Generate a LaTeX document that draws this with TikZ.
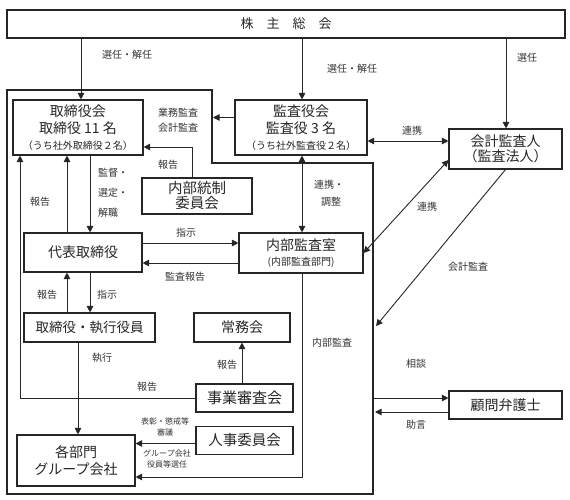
\documentclass[tikz,border=0pt]{standalone}
\usepackage{fontspec}
\setmainfont{Noto Sans CJK JP}
\usetikzlibrary{arrows.meta,calc}
\begin{document}
\begin{tikzpicture}[x=1pt,y=-1pt,
  box/.style={draw=black!85, line width=1.1pt, inner sep=0pt, align=center, text=black!85},
  big/.style={font=\fontsize{14}{18}\selectfont},
  lab/.style={font=\fontsize{10}{13}\selectfont, text=black!80, inner sep=0pt, align=center},
  tiny/.style={font=\fontsize{8}{11.5}\selectfont, text=black!80, inner sep=0pt, align=center},
  ln/.style={draw=black!85, line width=0.9pt},
  arr/.style={ln, -{Triangle[length=6.5pt,width=6.5pt]}},
  darr/.style={ln, {Triangle[length=6.5pt,width=6.5pt]}-{Triangle[length=6.5pt,width=6.5pt]}}]
\useasboundingbox (0,0) rectangle (570,500);

% outer frame
\coordinate (o1) at (7,90);
\coordinate (o2) at (212,90);
\coordinate (o3) at (212,163);
\coordinate (o4) at (373,163);
\coordinate (o5) at (373,494);
\coordinate (o6) at (7,494);
\draw[ln, line width=1.1pt] (o1) -- (o2) -- (o3) -- (o4) -- (o5) -- (o6) -- cycle;

% boxes
\node[box, big, minimum width=558pt, minimum height=28pt, font=\fontsize{13}{16}\selectfont] (soukai) at (286,24) {株　主　総　会};
\node[box, big, minimum width=130pt, minimum height=55pt] (torikai) at (78,127.5)
  {取締役会\\[-1pt]取締役 11 名\\[-2pt]{\fontsize{10}{12}\selectfont（うち社外取締役２名）}};
\node[box, big, minimum width=132pt, minimum height=55pt] (kansa) at (301,127.5)
  {監査役会\\[-1pt]監査役 3 名\\[-2pt]{\fontsize{10}{12}\selectfont（うち社外監査役２名）}};
\node[box, big, minimum width=113pt, minimum height=40pt] (kaikei) at (505.5,149)
  {会計監査人\\[-3pt]（監査法人）};
\node[box, big, minimum width=110pt, minimum height=36pt, font=\fontsize{14.5}{17}\selectfont] (naibu) at (197,196)
  {内部統制\\[-2pt]委員会};
\node[box, big, minimum width=118pt, minimum height=39pt] (daihyo) at (83,252.5) {代表取締役};
\node[box, big, minimum width=124pt, minimum height=40pt] (naikan) at (301,253)
  {内部監査室\\[-3pt]{\fontsize{10}{12}\selectfont (内部監査部門)}};
\node[box, big, minimum width=131pt, minimum height=29pt, font=\fontsize{13.5}{16}\selectfont] (shikko) at (89.5,327.5) {取締役・執行役員};
\node[box, big, minimum width=96pt, minimum height=29pt] (jomu) at (242,327.5) {常務会};
\node[box, big, minimum width=97pt, minimum height=28pt, font=\fontsize{15}{18}\selectfont] (jigyo) at (244.5,398) {事業審査会};
\node[box, big, minimum width=97pt, minimum height=28pt, font=\fontsize{14.5}{18}\selectfont] (jinji) at (244.5,440.5) {人事委員会};
\node[box, big, minimum width=118pt, minimum height=51pt] (kakubu) at (76,460.5)
  {各部門\\[-1pt]グループ会社};
\node[box, big, minimum width=113pt, minimum height=28pt] (bengo) at (505.5,405) {顧問弁護士};

% helper coordinates
\coordinate (xA) at (81,0);
\coordinate (xB) at (302,0);
\coordinate (xC) at (506,0);
\coordinate (xL1) at (20,0);
\coordinate (xL2) at (67,0);
\coordinate (xL3) at (90,0);
\coordinate (xE) at (78,0);
\coordinate (xN) at (192,0);
\coordinate (xJ) at (242,0);
\coordinate (yG) at (0,117.5);
\coordinate (yR) at (0,141);
\coordinate (yH) at (0,147);
\coordinate (yS) at (0,243);
\coordinate (yK) at (0,263);
\coordinate (yJ) at (0,443.5);
\coordinate (yI) at (0,477);
\coordinate (ySo) at (0,398);
\coordinate (yJo) at (0,412);
\coordinate (gyomu) at (213,117.5);
\coordinate (kaikeiEnd) at (376,326);
\coordinate (soudanStart) at (374,398);
\coordinate (jogenEnd) at (375,412);
\coordinate (iCorner) at (302,477);
\coordinate (hCorner) at (20,398);

% connectors
\draw[arr] (soukai.south -| xA) -- (torikai.north -| xA);
\draw[arr] (soukai.south -| xB) -- (kansa.north -| xB);
\draw[arr] (soukai.south -| xC) -- (kaikei.north -| xC);
\draw[arr] (kansa.west |- yG) -- (gyomu);
\draw[darr] (kansa.east |- yR) -- (kaikei.west |- yR);
\draw[arr] (naibu.north -| xN) |- (torikai.east |- yH);
\draw[darr] (kansa.south -| xB) -- (naikan.north -| xB);
\draw[arr] (torikai.south -| xL3) -- (daihyo.north -| xL3);
\draw[arr] (daihyo.north -| xL2) -- (torikai.south -| xL2);
\draw[arr] (daihyo.east |- yS) -- (naikan.west |- yS);
\draw[arr] (naikan.west |- yK) -- (daihyo.east |- yK);
\draw[darr] (naikan.east) -- ([yshift=-11pt]kaikei.west);
\draw[arr] (kaikei.south) -- (kaikeiEnd);
\draw[arr] (daihyo.south -| xL3) -- (shikko.north -| xL3);
\draw[arr] (shikko.north -| xL2) -- (daihyo.south -| xL2);
\draw[arr] (shikko.south -| xE) -- (kakubu.north -| xE);
\draw[arr] (jigyo.north -| xJ) -- (jomu.south -| xJ);
\draw[arr] (jigyo.west) -- (hCorner) -- (torikai.south -| xL1);
\draw[arr] (jinji.west |- yJ) -- (kakubu.east |- yJ);
\draw[arr] (naikan.south -| xB) -- (iCorner) -- (kakubu.east |- yI);
\draw[arr] (soudanStart) -- (bengo.west |- ySo);
\draw[arr] (bengo.west |- yJo) -- (jogenEnd);

% labels
\node[lab] (l1) at (127,55) {選任・解任};
\node[lab] (l2) at (352,69) {選任・解任};
\node[lab] (l3) at (527,58) {選任};
\node[lab] (l4) at (178,120) {業務監査\\[2pt]会計監査};
\node[lab] (l5) at (168,165) {報告};
\node[lab, align=left, anchor=west] (l6) at (98,193) {監督・\\[7pt]選定・\\[7pt]解職};
\node[lab] (l7) at (40,202) {報告};
\node[lab] (l8) at (412,131) {連携};
\node[lab] (l9) at (329,185) {連携・};
\node[lab] (l10) at (331,202) {調整};
\node[lab] (l11) at (427,207) {連携};
\node[lab] (l12) at (186,233) {指示};
\node[lab] (l13) at (185,277) {監査報告};
\node[lab] (l14) at (468,267) {会計監査};
\node[lab] (l15) at (47,295) {報告};
\node[lab] (l16) at (107,295) {指示};
\node[lab] (l17) at (332,343) {内部監査};
\node[lab] (l18) at (102,358) {執行};
\node[lab] (l19) at (227,365) {報告};
\node[lab] (l20) at (416,364) {相談};
\node[lab] (l21) at (147,387) {報告};
\node[lab] (l22) at (416,425) {助言};
\node[tiny] (l23) at (165,427) {表彰・懲戒等\\審議};
\node[tiny] (l24) at (167,459) {グループ会社\\役員等選任};
\end{tikzpicture}
\end{document}
